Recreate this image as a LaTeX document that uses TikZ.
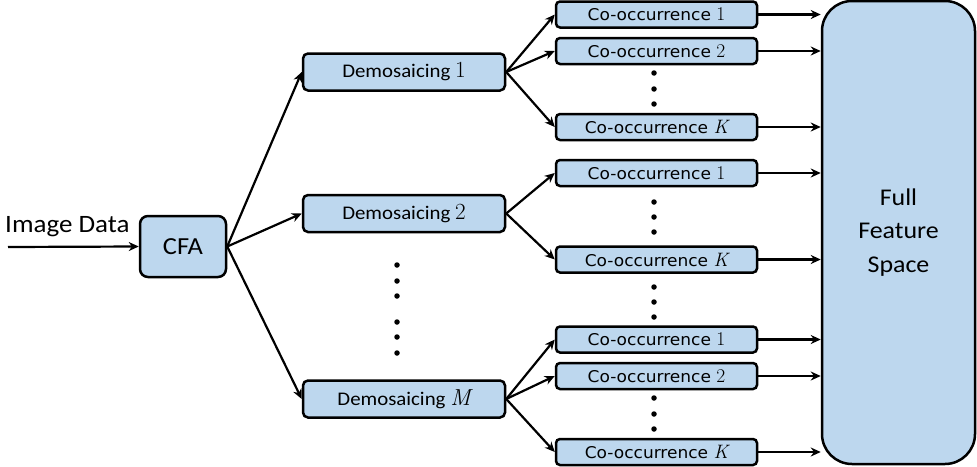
\documentclass[tikz,border=0pt]{standalone}
\usepackage{fontspec}
\setmainfont{Carlito}[FakeStretch=1.08]
\newfontfamily\cofont{DejaVu Sans}[FakeStretch=1.05]
\newfontfamily\numfont{Latin Modern Roman}[Scale=1.2]
\newcommand{\nup}[1]{{\numfont #1}}
\newcommand{\nit}[1]{{\numfont\itshape #1}}
\usetikzlibrary{arrows.meta}
\definecolor{boxblue}{RGB}{189,215,238}
\tikzset{
  box/.style={draw=black, fill=boxblue, line width=2.5pt, inner sep=0pt, align=center},
  cfabox/.style={box, rounded corners=8pt, minimum width=86pt, minimum height=61pt, font=\fontsize{24.5}{28}\selectfont},
  dembox/.style={box, rounded corners=5pt, minimum width=202pt, minimum height=37pt, font=\fontsize{19.3}{22}\selectfont},
  cobox/.style={box, rounded corners=4pt, minimum width=201pt, minimum height=26pt, font=\cofont\fontsize{16.2}{18}\selectfont},
  ffsbox/.style={box, rounded corners=30pt, minimum width=153pt, minimum height=463pt, font=\fontsize{24}{33.5}\selectfont},
  arr/.style={line width=2.2pt, -{Stealth[length=10pt,width=9pt]}},
  vdot/.style={circle, fill=black, inner sep=0pt, minimum size=5.5pt}
}
\begin{document}
\begin{tikzpicture}[x=1pt,y=-1pt]
\useasboundingbox (0,0) rectangle (977,466);
% main boxes
\node[cfabox] (cfa) at (183,246.5) {CFA};
\node[anchor=base west, font=\fontsize{25}{28}\selectfont, inner sep=0pt] (imgtxt) at (5,232) {Image Data};
\coordinate (imgstart) at (8,247);
\node[dembox] (d1) at (404,72) {Demosaicing \nup{1}};
\node[dembox] (d2) at (404,213.5) {Demosaicing \nup{2}};
\node[dembox] (dm) at (404,399) {Demosaicing \nit{M}};
% co-occurrence boxes
\node[cobox] (c11) at (656.5,14.5) {Co-occurrence \nup{1}};
\node[cobox] (c12) at (656.5,51) {Co-occurrence \nup{2}};
\node[cobox] (c1k) at (656.5,127) {Co-occurrence \nit{K}};
\node[cobox] (c21) at (656.5,173) {Co-occurrence \nup{1}};
\node[cobox] (c2k) at (656.5,259.5) {Co-occurrence \nit{K}};
\node[cobox] (c31) at (656.5,339.5) {Co-occurrence \nup{1}};
\node[cobox] (c32) at (656.5,376) {Co-occurrence \nup{2}};
\node[cobox] (c3k) at (656.5,452) {Co-occurrence \nit{K}};
% full feature space
\node[ffsbox] (ffs) at (898.5,232.5) {Full\\Feature\\Space};
% dots
\foreach \y [count=\i] in {265,281,296,322,337,353} \node[vdot] (dd\i) at (397,\y) {};
\foreach \y [count=\i] in {73,89,104,202,217,232,287,302,317,398,414,429} \node[vdot] (cd\i) at (654,\y) {};
% connectors
\draw[arr] (imgstart) -- (cfa.west);
\foreach \d in {d1,d2,dm} \draw[arr] (cfa.east) -- (\d.west);
\foreach \c in {c11,c12,c1k} \draw[arr] (d1.east) -- (\c.west);
\foreach \c in {c21,c2k} \draw[arr] (d2.east) -- (\c.west);
\foreach \c in {c31,c32,c3k} \draw[arr] (dm.east) -- (\c.west);
\foreach \c in {c11,c12,c1k,c21,c2k,c31,c32,c3k} \draw[arr] (\c.east) -- (\c.east -| ffs.west);
\end{tikzpicture}
\end{document}
